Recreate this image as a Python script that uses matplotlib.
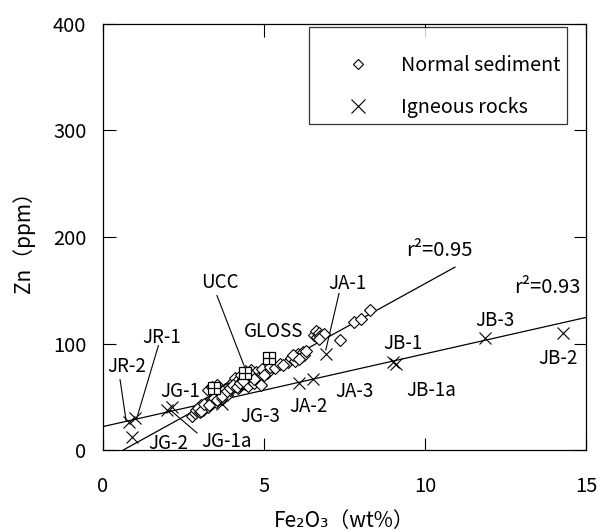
import matplotlib
matplotlib.use("Agg")
import matplotlib.pyplot as plt
from matplotlib.lines import Line2D

plt.rcParams['font.family'] = ['Noto Sans CJK JP', 'DejaVu Sans']

# ---- data ----
sed_fe = [2.75, 2.85, 2.9, 3.0, 3.0, 3.05, 3.1, 3.15, 3.2, 3.25, 3.3, 3.35, 3.4,
          3.25, 3.4, 3.55, 3.5, 3.6, 3.65, 3.7, 3.75, 3.8, 3.85, 3.9, 3.95, 4.0,
          4.0, 4.05, 4.1, 4.1, 4.15, 4.2, 4.2, 4.25, 4.3, 4.3, 4.35, 4.4, 4.4,
          4.45, 4.5, 4.5, 4.55, 4.6, 4.6, 4.65, 4.7, 4.75, 4.8, 4.9, 4.95, 5.1,
          5.2, 5.35, 5.5, 5.75, 5.85, 5.95, 6.0, 6.05, 6.15, 6.2, 6.25, 6.3,
          6.55, 6.6, 6.65, 6.7, 6.75, 6.85, 7.35, 7.8, 8.0, 8.3,
          2.95, 3.05, 3.15, 3.3, 3.45, 3.55, 3.7, 3.85, 3.95, 4.05, 4.15, 4.25,
          4.35, 4.5, 4.6, 4.7, 5.0, 5.6, 5.9, 6.1, 6.7]
sed_zn = [32, 35, 38, 36, 40, 42, 38, 41, 44, 40, 46, 43, 47,
          56, 59, 61, 45, 50, 55, 48, 53, 57, 52, 60, 56, 62,
          58, 64, 60, 68, 63, 66, 58, 61, 70, 64, 67, 62, 74,
          65, 69, 60, 72, 66, 75, 70, 63, 73, 68, 61, 76, 72,
          78, 77, 81, 83, 86, 84, 88, 90, 87, 92, 89, 93,
          108, 112, 106, 110, 107, 109, 103, 120, 123, 131,
          39, 37, 43, 42, 49, 47, 51, 55, 58, 61, 59, 63,
          65, 71, 70, 67, 70, 80, 89, 85, 104]

ref_fe = [3.45, 4.42, 5.14]
ref_zn = [58, 72, 86]

ign_names = ['JR-2', 'JR-1', 'JG-2', 'JG-1', 'JG-1a', 'JG-3', 'JA-2', 'JA-3',
             'JA-1', 'JB-1', 'JB-1a', 'JB-3', 'JB-2']
ign_fe = [0.81, 1.0, 0.89, 2.15, 2.0, 3.7, 6.08, 6.53, 6.92, 9.0, 9.1, 11.87, 14.3]
ign_zn = [26, 30, 12, 40, 38, 43, 62.5, 67, 90, 83, 81, 105, 110]

# regression lines: slope, intercept, x-range
sed_slope, sed_icpt, sed_x = 16.67, -10.5, [0.63, 10.93]
ign_slope, ign_icpt, ign_x = 6.83, 22.0, [0.0, 15.0]
sed_r2, ign_r2 = 0.95, 0.93

x_ticks = [0, 5, 10, 15]
y_ticks = [0, 100, 200, 300, 400]

# label text positions (data) and optional leader-line ends
labels = [
    ('UCC',   3.64, 157, (3.54, 145), (4.37, 80)),
    ('GLOSS', 5.30, 111, None, None),
    ('JR-1',  1.83, 106, (1.72, 98), (1.05, 30)),
    ('JR-2',  0.74, 78, (0.53, 66), (0.72, 27)),
    ('JG-1',  2.40, 55, None, None),
    ('JG-2',  2.03, 6, None, None),
    ('JG-1a', 3.85, 8, (2.92, 16), (2.09, 37.5)),
    ('JG-3',  4.89, 31, None, None),
    ('JA-2',  6.37, 41, None, None),
    ('JA-3',  7.80, 55, None, None),
    ('JA-1',  7.59, 156, (7.33, 147), (6.92, 94)),
    ('JB-1',  9.30, 100, None, None),
    ('JB-1a', 10.20, 56, None, None),
    ('JB-3',  12.16, 122, None, None),
    ('JB-2',  14.13, 86, None, None),
]

W, H = 598, 531
fig = plt.figure(figsize=(W / 100, H / 100), dpi=100)
ax = fig.add_axes([103 / W, 1 - 450 / H, (586 - 103) / W, (450 - 24) / H])

# regression lines
for sl, ic, xr in [(sed_slope, sed_icpt, sed_x), (ign_slope, ign_icpt, ign_x)]:
    ax.plot(xr, [sl * xr[0] + ic, sl * xr[1] + ic], color='black', lw=0.9, zorder=2)

# data
ax.plot(sed_fe, sed_zn, linestyle='none', marker='D', markersize=6.3,
        markerfacecolor='white', markeredgecolor='black', markeredgewidth=0.8, zorder=3)
ax.plot(ref_fe, ref_zn, linestyle='none', marker='s', markersize=8,
        markerfacecolor='white', markeredgecolor='black', markeredgewidth=0.9, zorder=4)
ax.plot(ref_fe, ref_zn, linestyle='none', marker='+', markersize=8,
        markeredgecolor='black', markeredgewidth=0.9, zorder=5)
ax.plot(ign_fe, ign_zn, linestyle='none', marker='x', markersize=9,
        markeredgecolor='black', markeredgewidth=0.8, zorder=4)

# labels
for name, tx, ty, p0, p1 in labels:
    ax.text(tx, ty, name, fontsize=13.5, ha='center', va='center', zorder=6)
    if p0 is not None:
        ax.plot([p0[0], p1[0]], [p0[1], p1[1]], color='black', lw=0.8, zorder=2)

ax.text(10.45, 187, f'r²={sed_r2:.2f}', fontsize=14.5, ha='center', va='center')
ax.text(13.8, 153, f'r²={ign_r2:.2f}', fontsize=14.5, ha='center', va='center')

ax.set_xlim(0, 15)
ax.set_ylim(0, 400)
ax.set_xticks(x_ticks)
ax.set_yticks(y_ticks)
ax.tick_params(direction='in', length=9, width=0.8, top=True, right=True,
               labelsize=14.5)
ax.tick_params(axis='x', pad=19)
ax.tick_params(axis='y', pad=12)
for s in ax.spines.values():
    s.set_linewidth(0.9)

ax.set_xlabel('Fe₂O₃（wt%）', fontsize=15, labelpad=9)
ax.set_ylabel('Zn（ppm）', fontsize=15, labelpad=13)

handles = [
    Line2D([], [], linestyle='none', marker='D', markersize=5.5,
           markerfacecolor='white', markeredgecolor='black', markeredgewidth=0.8),
    Line2D([], [], linestyle='none', marker='x', markersize=10,
           markeredgecolor='black', markeredgewidth=0.8),
]
leg = ax.legend(handles, ['Normal sediment', 'Igneous rocks'],
                loc='upper right', bbox_to_anchor=(567 / W, 1 - 27 / H),
                bbox_transform=fig.transFigure, fontsize=14.2,
                frameon=True, fancybox=False, borderpad=0.32,
                handlelength=4.3, handletextpad=0.05, labelspacing=1.05,
                borderaxespad=0, title=' ', title_fontsize=1)
leg.get_frame().set_edgecolor('black')
leg.get_frame().set_linewidth(0.9)

fig.savefig('out.png', dpi=100)
